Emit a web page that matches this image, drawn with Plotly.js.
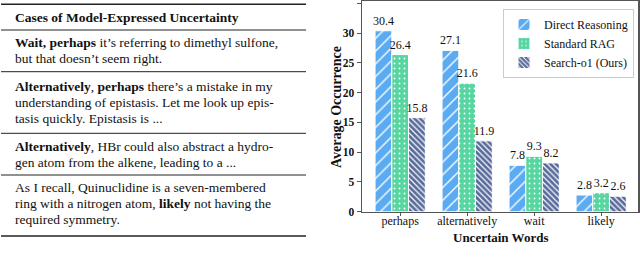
<!DOCTYPE html>
<html>
<head>
<meta charset="utf-8">
<script src="https://cdn.plot.ly/plotly-3.0.1.min.js"></script>
<style>
html,body{margin:0;padding:0;background:#fff;}
#chart{width:640px;height:260px;}
</style>
</head>
<body>
<div id="chart"></div>
<script>
// ---- data ----
const categories = ["perhaps", "alternatively", "wait", "likely"];
const seriesNames = ["Direct Reasoning", "Standard RAG", "Search-o1 (Ours)"];
const directReasoning = [30.4, 27.1, 7.8, 2.8];
const standardRAG = [26.4, 21.6, 9.3, 3.2];
const searchO1 = [15.8, 11.9, 8.2, 2.6];
const yTicks = [0, 5, 10, 15, 20, 25, 30, 35];
const tableHeader = "Cases of Model-Expressed Uncertainty";
const tableRows = [
  ["<b>Wait, perhaps</b> it’s referring to dimethyl sulfone,", "but that doesn’t seem right."],
  ["<b>Alternatively</b>, <b>perhaps</b> there’s a mistake in my", "understanding of epistasis. Let me look up epis-", "tasis quickly. Epistasis is ..."],
  ["<b>Alternatively</b>, HBr could also abstract a hydro-", "gen atom from the alkene, leading to a ..."],
  ["As I recall, Quinuclidine is a seven-membered", "ring with a nitrogen atom, <b>likely</b> not having the", "required symmetry."]
];

// ---- styling ----
const W = 640, H = 260;
const px = x => x / W;
const py = y => 1 - y / H;
const serif = "Liberation Serif";
const colors = ["#5aabf2", "#58d6a2", "#56699a"];
const shapesPat = ["/", ".", "\\"];
const patSize = [9, 5, 4];
const patSolid = [0.15, 0.1, 0.3];
const values = [directReasoning, standardRAG, searchO1];

const traces = values.map((v, i) => ({
  type: "bar",
  name: seriesNames[i],
  x: categories,
  y: v,
  text: v.map(d => d.toFixed(1)),
  textposition: "outside",
  constraintext: "none",
  cliponaxis: false,
  textfont: {family: serif, size: 12, color: "#111"},
  marker: {
    color: colors[i],
    line: {color: "#ffffff", width: 1},
    pattern: {shape: shapesPat[i], fgcolor: "#ffffff", bgcolor: colors[i], size: patSize[i], solidity: patSolid[i], fillmode: "replace"}
  },
  hoverinfo: "skip"
}));

// table rules & text
const shapes = [];
const annotations = [];
const ruleX0 = px(1), ruleX1 = px(306);
const rules = [[4.3, 1.6], [30, 1], [71.7, 1], [133.3, 1], [175, 1], [236, 1.6]];
rules.forEach(r => shapes.push({type: "line", xref: "paper", yref: "paper", x0: ruleX0, x1: ruleX1, y0: py(r[0]), y1: py(r[0]), line: {color: "#222", width: r[1]}}));

annotations.push({xref: "paper", yref: "paper", x: px(12.5), y: py(18), xanchor: "left", yanchor: "middle", showarrow: false, text: "<b>" + tableHeader + "</b>", font: {family: serif, size: 13.5, color: "#111"}});
const rowStarts = [43, 86.7, 146, 187.3];
const lineH = 16;
tableRows.forEach((row, ri) => {
  row.forEach((line, li) => {
    annotations.push({xref: "paper", yref: "paper", x: px(12.5), y: py(rowStarts[ri] + li * lineH), xanchor: "left", yanchor: "middle", showarrow: false, text: line, font: {family: serif, size: 13.5, color: "#111"}});
  });
});

// y title
annotations.push({xref: "paper", yref: "paper", x: px(336), y: py(107), xanchor: "center", yanchor: "middle", textangle: -90, showarrow: false, text: "<b>Average Occurrence</b>", font: {family: serif, size: 14, color: "#111"}});
// x title
annotations.push({xref: "paper", yref: "paper", x: px(500), y: py(237), xanchor: "center", yanchor: "middle", showarrow: false, text: "<b>Uncertain Words</b>", font: {family: serif, size: 13, color: "#111"}});

const layout = {
  width: W, height: H,
  margin: {l: 0, r: 0, t: 0, b: 0},
  paper_bgcolor: "#fff", plot_bgcolor: "#fff",
  barmode: "group", bargap: 0.25, bargroupgap: 0,
  showlegend: true,
  legend: {x: px(634), y: py(9), xanchor: "right", yanchor: "top", bgcolor: "#fff", bordercolor: "#cccccc", borderwidth: 1, font: {family: serif, size: 12, color: "#111"}, tracegroupgap: 0},
  xaxis: {
    domain: [px(362), px(638)],
    range: [-0.57, 3.55],
    showline: true, mirror: true, linecolor: "#555", linewidth: 1.5,
    ticks: "outside", ticklen: 3, tickcolor: "#555", tickwidth: 1,
    ticklabelstandoff: -6,
    showgrid: false, zeroline: false, fixedrange: true,
    tickfont: {family: serif, size: 12, color: "#111"}
  },
  yaxis: {
    domain: [py(211.7), py(1)],
    range: [0, 35.4],
    tickvals: yTicks,
    showline: true, mirror: true, linecolor: "#555", linewidth: 1.5,
    ticks: "outside", ticklen: 4, tickcolor: "#555", tickwidth: 1,
    showgrid: false, zeroline: false, fixedrange: true,
    tickfont: {family: serif, size: 11.5, color: "#111", weight: "bold"}
  },
  shapes: shapes,
  annotations: annotations
};

Plotly.newPlot("chart", traces, layout, {staticPlot: true, displayModeBar: false});
</script>
</body>
</html>
